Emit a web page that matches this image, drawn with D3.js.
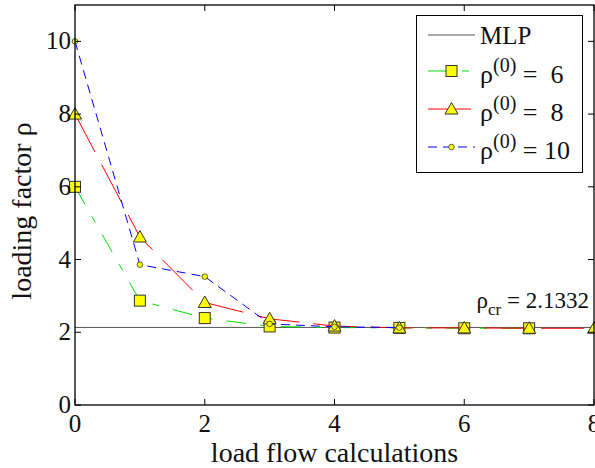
<!DOCTYPE html>
<html>
<head>
<meta charset="utf-8">
<script src="https://cdn.jsdelivr.net/npm/d3@7"></script>
<style>
  body { margin: 0; background: #fff; }
  svg text { font-family: 'Liberation Serif', 'DejaVu Serif', serif; fill: #111; }
</style>
</head>
<body>
<div id="chart"></div>
<script>
// data
const rhoCr = 2.1332;
const steps6 = [0, 1, 2, 3, 4, 5, 6, 7];
const rho6 = [6, 2.87, 2.39, 2.16, 2.13, 2.12, 2.11, 2.11];
const steps8 = [0, 1, 2, 3, 4, 5, 6, 7, 8];
const rho8 = [8, 4.62, 2.82, 2.37, 2.17, 2.12, 2.12, 2.11, 2.11];
const steps10 = [0, 1, 2, 3, 4, 5];
const rho10 = [10, 3.86, 3.53, 2.23, 2.15, 2.13];
const xTicks = [0, 2, 4, 6, 8];
const yTicks = [0, 2, 4, 6, 8, 10];

const serif = "'Liberation Serif', 'DejaVu Serif', serif";
const W = 595, H = 468;
const margin = {top: 5, right: 1, bottom: 63, left: 75};
const width = W - margin.left - margin.right;
const height = H - margin.top - margin.bottom;

const svgRoot = d3.select('#chart').append('svg')
  .attr('width', W)
  .attr('height', H)
  .attr('font-family', serif);
const svg = svgRoot.append('g')
  .attr('transform', 'translate(' + margin.left + ',' + margin.top + ')');

const x = d3.scaleLinear().domain([0, 8]).range([0, width]);
const y = d3.scaleLinear().domain([0, 11]).range([height, 0]);

const series = [
  {steps: steps6, vals: rho6, color: '#00e000', dash: '20,14,7,14', marker: 'square', label: '6', pad: '  '},
  {steps: steps8, vals: rho8, color: '#ff0000', dash: '43,14', marker: 'triangle', label: '8', pad: '  '},
  {steps: steps10, vals: rho10, color: '#0000ff', dash: '9,6', marker: 'circle', label: '10', pad: ' '}
];

const addText = (g, size) => g.append('text')
  .style('font-family', serif)
  .style('font-size', size + 'px');

const drawMarker = (g, kind, cx, cy) => {
  if (kind === 'square') {
    g.append('rect')
      .attr('x', cx - 5.5).attr('y', cy - 5.5)
      .attr('width', 11).attr('height', 11)
      .attr('fill', '#ffff00').attr('stroke', '#333').attr('stroke-width', 1);
  } else if (kind === 'triangle') {
    g.append('path')
      .attr('d', `M${cx},${cy - 6.5}L${cx + 6.5},${cy + 5}L${cx - 6.5},${cy + 5}Z`)
      .attr('fill', '#ffff00').attr('stroke', '#333').attr('stroke-width', 1);
  } else {
    g.append('circle')
      .attr('cx', cx).attr('cy', cy).attr('r', 2.8)
      .attr('fill', '#ffff00').attr('stroke', '#333').attr('stroke-width', 0.8);
  }
};

// MLP reference line
svg.append('line')
  .attr('x1', x(0)).attr('x2', x(8))
  .attr('y1', y(rhoCr)).attr('y2', y(rhoCr))
  .attr('stroke', '#555').attr('stroke-width', 1);

const line = d3.line().x(d => x(d[0])).y(d => y(d[1]));
for (const s of series) {
  const pts = s.steps.map((k, i) => [k, s.vals[i]]);
  svg.append('path')
    .attr('d', line(pts))
    .attr('fill', 'none')
    .attr('stroke', s.color)
    .attr('stroke-width', 1)
    .attr('stroke-dasharray', s.dash);
  const mg = svg.append('g');
  for (const p of pts) drawMarker(mg, s.marker, x(p[0]), y(p[1]));
}

// frame and inward ticks on all four sides
svg.append('rect')
  .attr('x', 0).attr('y', 0).attr('width', width).attr('height', height)
  .attr('fill', 'none').attr('stroke', '#000').attr('stroke-width', 1.3);

const tickLen = 6;
for (const t of xTicks) {
  svg.append('line').attr('x1', x(t)).attr('x2', x(t)).attr('y1', height).attr('y2', height - tickLen)
    .attr('stroke', '#000');
  svg.append('line').attr('x1', x(t)).attr('x2', x(t)).attr('y1', 0).attr('y2', tickLen)
    .attr('stroke', '#000');
  addText(svg, 25)
    .attr('x', x(t)).attr('y', height + 27)
    .attr('text-anchor', 'middle')
    .text(t);
}
for (const t of yTicks) {
  svg.append('line').attr('x1', 0).attr('x2', tickLen).attr('y1', y(t)).attr('y2', y(t))
    .attr('stroke', '#000');
  svg.append('line').attr('x1', width).attr('x2', width - tickLen).attr('y1', y(t)).attr('y2', y(t))
    .attr('stroke', '#000');
  addText(svg, 25)
    .attr('x', -4).attr('y', y(t) + 8)
    .attr('text-anchor', 'end')
    .text(t);
}

// axis titles
addText(svgRoot, 28)
  .attr('x', margin.left + width / 2).attr('y', 462)
  .attr('text-anchor', 'middle')
  .text('load flow calculations');
addText(svgRoot, 28)
  .attr('transform', `translate(31,${margin.top + height / 2 + 6}) rotate(-90)`)
  .attr('text-anchor', 'middle')
  .text('loading factor ρ');

// rho_cr annotation
const crText = addText(svg, 23)
  .attr('x', 589 - margin.left).attr('y', 308 - margin.top)
  .attr('text-anchor', 'end')
  .style('white-space', 'pre');
crText.append('tspan').text('ρ');
crText.append('tspan').attr('dy', 7).style('font-size', '17px').text('cr');
crText.append('tspan').attr('dy', -7).text(' = ' + rhoCr);

// legend
const lg = svgRoot.append('g');
lg.append('rect')
  .attr('x', 416.5).attr('y', 15.5).attr('width', 166).attr('height', 157)
  .attr('fill', '#fff').attr('stroke', '#000').attr('stroke-width', 1);
lg.append('line')
  .attr('x1', 428).attr('x2', 475).attr('y1', 35).attr('y2', 35)
  .attr('stroke', '#555').attr('stroke-width', 1);
addText(lg, 25)
  .attr('x', 480).attr('y', 44)
  .text('MLP');
series.forEach((s, i) => {
  const ly = 71 + 38 * i;
  lg.append('line')
    .attr('x1', 428).attr('x2', 475).attr('y1', ly).attr('y2', ly)
    .attr('stroke', s.color).attr('stroke-width', 1)
    .attr('stroke-dasharray', s.dash);
  drawMarker(lg, s.marker, 451.5, ly);
  const t = addText(lg, 26)
    .attr('x', 480).attr('y', ly + 12)
    .style('white-space', 'pre');
  t.append('tspan').text('ρ');
  t.append('tspan').attr('dy', -11).style('font-size', '20px').text('(0)');
  t.append('tspan').attr('dy', 11).text(' =' + s.pad + s.label);
});
</script>
</body>
</html>
